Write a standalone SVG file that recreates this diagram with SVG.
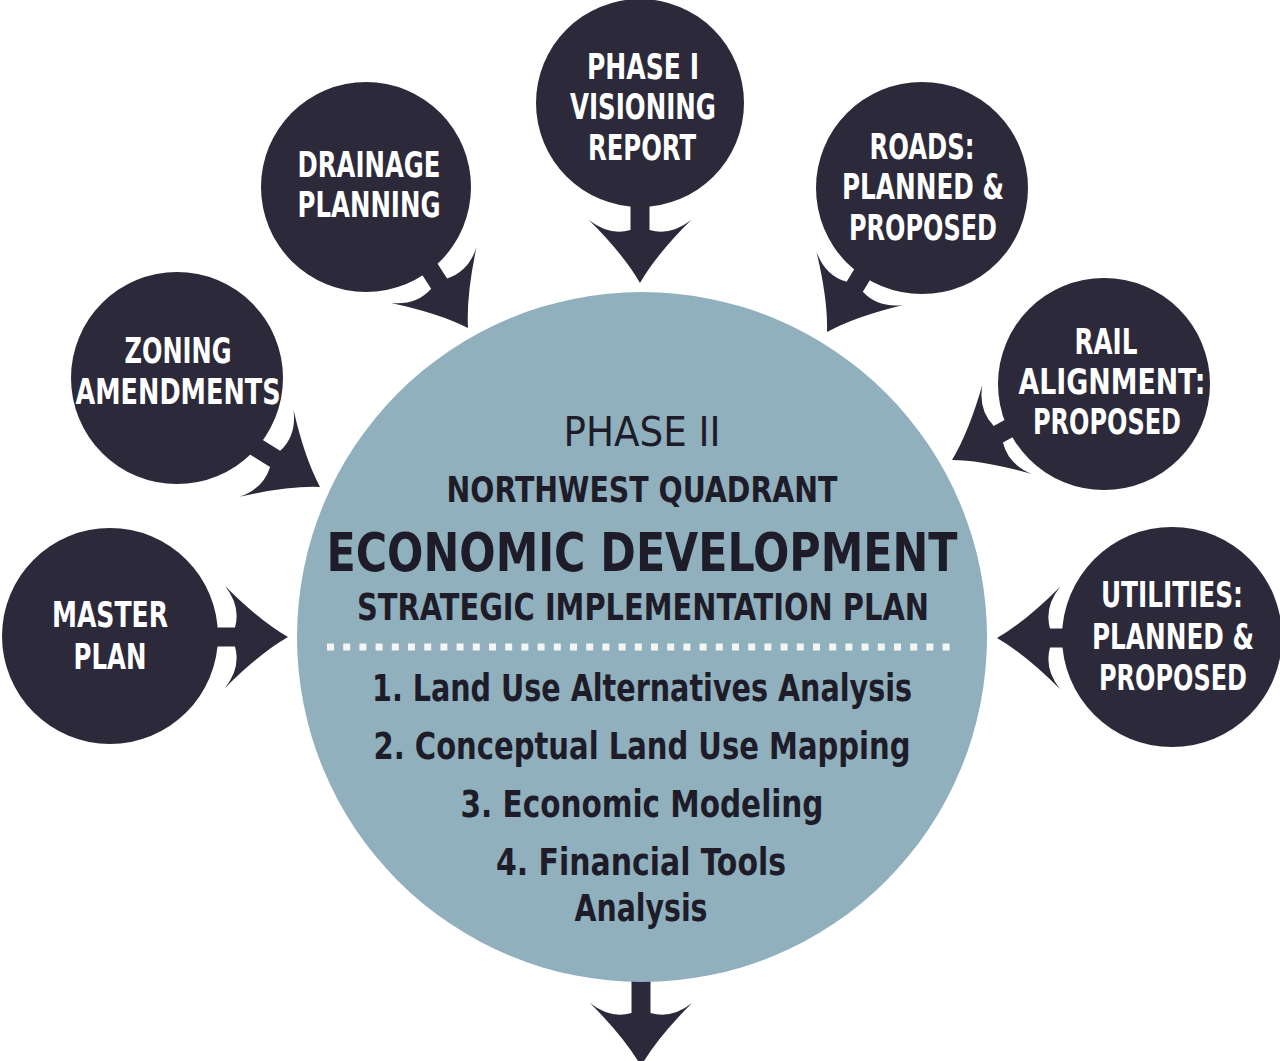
<svg xmlns="http://www.w3.org/2000/svg" width="1280" height="1061" viewBox="0 0 1280 1061">
<defs>
<style>
.node{fill:#2c2a3a}
.hub{fill:#90b0bd}
.arr{fill:#2c2a3a}
.nt{fill:#ffffff;font-family:'Liberation Sans Narrow','DejaVu Sans Condensed','Liberation Sans',sans-serif;font-stretch:condensed;font-weight:bold;font-size:35px;text-anchor:middle}
.ct{fill:#1d1c28;font-family:'Liberation Sans Narrow','DejaVu Sans Condensed','Liberation Sans',sans-serif;font-stretch:condensed;font-weight:bold;text-anchor:middle}
</style>
<path id="ah" d="M0 0 Q-28 -16 -63 -51 Q-47 -31 -53 -9.5 L-95 -9.5 L-95 9.5 L-53 9.5 Q-47 31 -63 51 Q-28 16 0 0 Z"/>
</defs>
<rect width="1280" height="1061" fill="#ffffff"/>
<g id="connectors" class="arr">
<use href="#ah" transform="translate(288 637)"/>
<use href="#ah" transform="translate(320 487) rotate(32)"/>
<use href="#ah" transform="translate(468 328) rotate(57)"/>
<use href="#ah" transform="translate(640 283) rotate(90)"/>
<use href="#ah" transform="translate(827 332) rotate(121.5)"/>
<use href="#ah" transform="translate(952 460) rotate(151)"/>
<use href="#ah" transform="translate(997 638) rotate(180)"/>
<use href="#ah" transform="translate(641 1066) rotate(90)"/>
</g>
<g id="hub">
<circle class="hub" cx="642" cy="637" r="345"/>
<text class="ct" x="642" y="446" font-size="41" style="font-weight:normal" textLength="157" lengthAdjust="spacingAndGlyphs">PHASE II</text>
<text class="ct" x="642" y="502" font-size="35" textLength="391" lengthAdjust="spacingAndGlyphs">NORTHWEST QUADRANT</text>
<text class="ct" x="642" y="571" font-size="53" textLength="631" lengthAdjust="spacingAndGlyphs">ECONOMIC DEVELOPMENT</text>
<text class="ct" x="643" y="620" font-size="37" textLength="572" lengthAdjust="spacingAndGlyphs">STRATEGIC IMPLEMENTATION PLAN</text>
<line x1="327" y1="647" x2="958" y2="647" stroke="#f3f5f2" stroke-width="7" stroke-dasharray="7 9.2"/>
<text class="ct" x="642" y="701" font-size="37" textLength="540" lengthAdjust="spacingAndGlyphs">1. Land Use Alternatives Analysis</text>
<text class="ct" x="642" y="759" font-size="37" textLength="537" lengthAdjust="spacingAndGlyphs">2. Conceptual Land Use Mapping</text>
<text class="ct" x="642" y="817" font-size="37" textLength="363" lengthAdjust="spacingAndGlyphs">3. Economic Modeling</text>
<text class="ct" x="641" y="875" font-size="37" textLength="290" lengthAdjust="spacingAndGlyphs">4. Financial Tools</text>
<text class="ct" x="641" y="921" font-size="37" textLength="133" lengthAdjust="spacingAndGlyphs">Analysis</text>
</g>
<g id="master-plan">
<circle class="node" cx="110" cy="636" r="108"/>
<text class="nt" x="110" y="627" textLength="116" lengthAdjust="spacingAndGlyphs">MASTER</text>
<text class="nt" x="110" y="669" textLength="73" lengthAdjust="spacingAndGlyphs">PLAN</text>
</g>
<g id="zoning-amendments">
<circle class="node" cx="177" cy="378" r="106"/>
<text class="nt" x="178" y="363" textLength="107" lengthAdjust="spacingAndGlyphs">ZONING</text>
<text class="nt" x="178" y="404" textLength="205" lengthAdjust="spacingAndGlyphs">AMENDMENTS</text>
</g>
<g id="drainage-planning">
<circle class="node" cx="366" cy="187" r="105"/>
<text class="nt" x="369" y="177" textLength="143" lengthAdjust="spacingAndGlyphs">DRAINAGE</text>
<text class="nt" x="369" y="217" textLength="143" lengthAdjust="spacingAndGlyphs">PLANNING</text>
</g>
<g id="phase-i">
<circle class="node" cx="640" cy="103" r="104"/>
<text class="nt" x="643" y="79" textLength="112" lengthAdjust="spacingAndGlyphs">PHASE I</text>
<text class="nt" x="643" y="119" textLength="146" lengthAdjust="spacingAndGlyphs">VISIONING</text>
<text class="nt" x="642" y="160" textLength="108" lengthAdjust="spacingAndGlyphs">REPORT</text>
</g>
<g id="roads">
<circle class="node" cx="922" cy="188" r="106"/>
<text class="nt" x="922" y="159" textLength="105" lengthAdjust="spacingAndGlyphs">ROADS:</text>
<text class="nt" x="923" y="199" textLength="162" lengthAdjust="spacingAndGlyphs">PLANNED &amp;</text>
<text class="nt" x="923" y="240" textLength="148" lengthAdjust="spacingAndGlyphs">PROPOSED</text>
</g>
<g id="rail">
<circle class="node" cx="1104" cy="384" r="106"/>
<text class="nt" x="1106" y="354" textLength="63" lengthAdjust="spacingAndGlyphs">RAIL</text>
<text class="nt" x="1112" y="394" textLength="187" lengthAdjust="spacingAndGlyphs">ALIGNMENT:</text>
<text class="nt" x="1107" y="434" textLength="148" lengthAdjust="spacingAndGlyphs">PROPOSED</text>
</g>
<g id="utilities">
<circle class="node" cx="1172" cy="637" r="110"/>
<text class="nt" x="1172" y="607" textLength="142" lengthAdjust="spacingAndGlyphs">UTILITIES:</text>
<text class="nt" x="1173" y="649" textLength="162" lengthAdjust="spacingAndGlyphs">PLANNED &amp;</text>
<text class="nt" x="1173" y="690" textLength="148" lengthAdjust="spacingAndGlyphs">PROPOSED</text>
</g>
</svg>
